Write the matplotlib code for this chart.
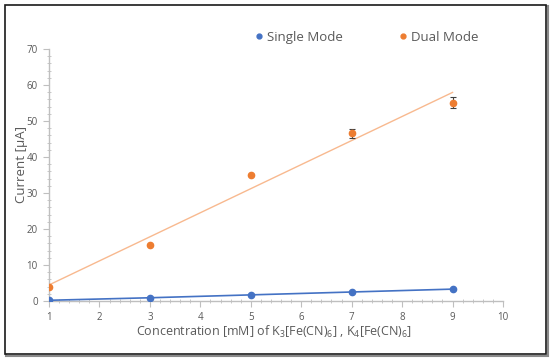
import matplotlib.pyplot as plt
from matplotlib.patches import Rectangle
from matplotlib.lines import Line2D
from matplotlib.ticker import MultipleLocator
import numpy as np

plt.rcParams['font.family'] = ['Open Sans', 'DejaVu Sans']

# DATA
conc = [1, 3, 5, 7, 9]
single_mode = [0.2, 0.9, 1.7, 2.5, 3.3]
dual_mode = [3.8, 15.5, 35.0, 46.6, 55.1]
dual_err = [0.0, 0.0, 0.0, 1.2, 1.6]

blue = '#4472c4'
orange = '#ed7d31'
grey_txt = '#595959'
grey_ax = '#bfbfbf'

W, H = 550, 360
fig = plt.figure(figsize=(5.5, 3.6), dpi=100)
ax = fig.add_axes([49 / W, 1 - 301 / H, (503 - 49) / W, (301 - 49) / H])

# FRAME AROUND THE FIGURE (with shadow on right and bottom)
fig.patches.append(Rectangle((6 / W, 1 - 356 / H), 542 / W, 350 / H, transform=fig.transFigure,
                             fill=False, edgecolor='#8a8a8a', linewidth=1.5, zorder=-2))
fig.patches.append(Rectangle((4.5 / W, 1 - 353.5 / H), 541 / W, 349 / H, transform=fig.transFigure,
                             facecolor='white', edgecolor='#1a1a1a', linewidth=1.2, zorder=-1))

# TREND LINE FOR DUAL MODE
slope, icpt = np.polyfit(conc, dual_mode, 1)
xs = np.array([conc[0], conc[-1]])
ax.plot(xs, slope * xs + icpt, color='#f8b98f', linewidth=1.0, zorder=2)

# SERIES
ax.plot(conc, single_mode, color=blue, linewidth=1.2, marker='o', markersize=4.5, zorder=3)
ax.errorbar(conc, dual_mode, yerr=dual_err, fmt='o', color=orange, markersize=4.5,
            ecolor='#404040', elinewidth=0.8, capsize=2, capthick=0.8, zorder=4)

# AXES
ax.set_facecolor('none')
ax.set_xlim(1, 10)
ax.set_ylim(0, 70)
ax.xaxis.set_major_locator(MultipleLocator(1))
ax.xaxis.set_minor_locator(MultipleLocator(0.2))
ax.yaxis.set_major_locator(MultipleLocator(10))
ax.yaxis.set_minor_locator(MultipleLocator(2))
for s in ['top', 'right']:
    ax.spines[s].set_visible(False)
for s in ['left', 'bottom']:
    ax.spines[s].set_color(grey_ax)
    ax.spines[s].set_linewidth(1.0)
ax.tick_params(which='major', length=4, color=grey_ax, labelsize=7,
               labelcolor=grey_txt, direction='out', pad=4)
ax.tick_params(which='minor', length=3, color=grey_ax, direction='inout')

ax.set_xlabel(r'Concentration [mM] of K$_\mathregular{3}$[Fe(CN)$_\mathregular{6}$] , '
              r'K$_\mathregular{4}$[Fe(CN)$_\mathregular{6}$]',
              fontsize=9, color=grey_txt)
ax.set_ylabel('Current [μA]', fontsize=9.5, color=grey_txt)
ax.xaxis.set_label_coords(0.496, -0.091)
ax.yaxis.set_label_coords(-0.046, 0.54)

# LEGEND
handles = [Line2D([], [], linestyle='none', marker='o', markersize=3.5, color=blue),
           Line2D([], [], linestyle='none', marker='o', markersize=3.5, color=orange)]
leg = ax.legend(handles, ['Single Mode', 'Dual Mode'], loc='center',
                bbox_to_anchor=(0.70, 1.047), ncol=2, frameon=False,
                fontsize=9.5, handlelength=0.6, handletextpad=0.3, columnspacing=4.2)
for t in leg.get_texts():
    t.set_color(grey_txt)

fig.savefig('out.png', dpi=100)
